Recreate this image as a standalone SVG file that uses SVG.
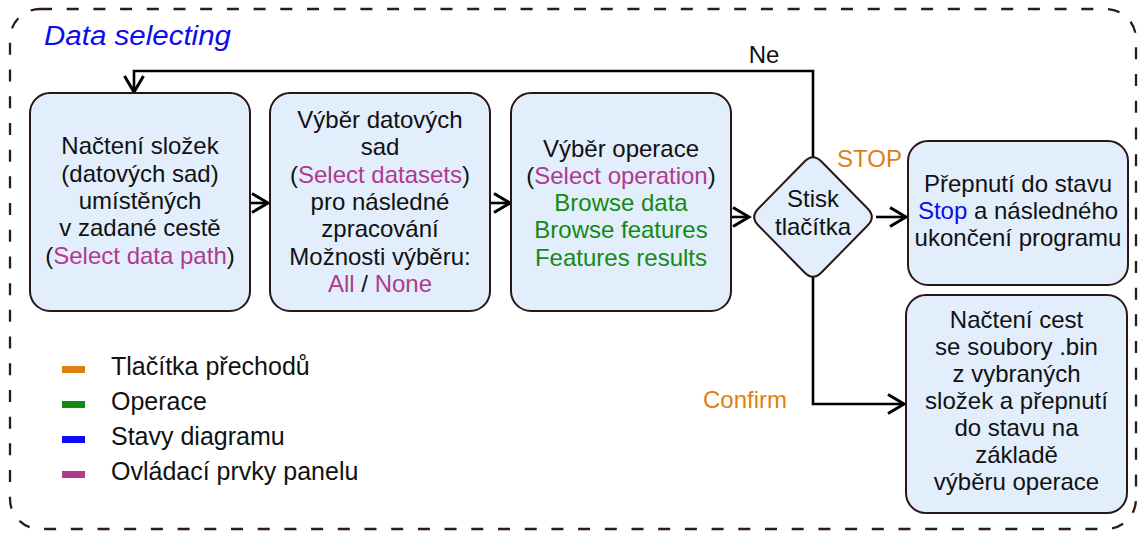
<svg xmlns="http://www.w3.org/2000/svg" width="1139" height="537" viewBox="0 0 1139 537">
  <style>
    text { font-family: "Liberation Sans", Arial, sans-serif; fill: #111; }
    .t { font-size: 24px; text-anchor: middle; }
    .lg { font-size: 25px; }
    .box { fill: #e2eefc; stroke: #2a1616; stroke-width: 2; }
    .conn { fill: none; stroke: #000; stroke-width: 2.6; }
    .p { fill: #b2398f; }
    .g { fill: #148a14; }
    .b { fill: #0c0cf0; }
    .o { fill: #e07f12; }
  </style>
  <defs>
    <marker id="arr" markerUnits="userSpaceOnUse" markerWidth="22" markerHeight="26" refX="18" refY="11" orient="auto" overflow="visible">
      <path d="M2,1.5 L18,11 L2,20.5" fill="none" stroke="#000" stroke-width="3"/>
    </marker>
  </defs>
  <rect width="1139" height="537" fill="#fff"/>

  <g id="frame">
    <rect x="10" y="9" width="1126" height="520" rx="30" ry="30" fill="none" stroke="#2e1a1a" stroke-width="2.3" stroke-dasharray="12 14.7"/>
    <text x="44" y="45" font-size="27" font-style="italic" fill="#0c0cf0" style="fill:#0c0cf0" textLength="187" lengthAdjust="spacingAndGlyphs">Data selecting</text>
  </g>

  <g id="connectors">
    <path class="conn" d="M813,160 V71 H134 V92" marker-end="url(#arr)"/>
    <path class="conn" d="M250,203 H268" marker-end="url(#arr)"/>
    <path class="conn" d="M490,203 H510" marker-end="url(#arr)"/>
    <path class="conn" d="M731,217 H749" marker-end="url(#arr)"/>
    <path class="conn" d="M876,217 H906" marker-end="url(#arr)"/>
    <path class="conn" d="M813,275 V404 H904" marker-end="url(#arr)"/>
    <text x="764" y="63" class="t">Ne</text>
    <text x="837" y="167" font-size="24" class="o">STOP</text>
    <text x="703" y="408" font-size="24" class="o">Confirm</text>
  </g>

  <g id="node-load">
    <rect class="box" x="30" y="93" width="220" height="218" rx="20"/>
    <text class="t" x="140" y="154">Načtení složek</text>
    <text class="t" x="140" y="181.5">(datových sad)</text>
    <text class="t" x="140" y="209">umístěných</text>
    <text class="t" x="140" y="236">v zadané cestě</text>
    <text class="t" x="140" y="263.5">(<tspan class="p">Select data path</tspan>)</text>
  </g>

  <g id="node-datasets">
    <rect class="box" x="270" y="93" width="220" height="218" rx="20"/>
    <text class="t" x="380" y="128">Výběr datových</text>
    <text class="t" x="380" y="155.3">sad</text>
    <text class="t" x="380" y="182.6">(<tspan class="p">Select datasets</tspan>)</text>
    <text class="t" x="380" y="210">pro následné</text>
    <text class="t" x="380" y="237.2">zpracování</text>
    <text class="t" x="380" y="264.5">Možnosti výběru:</text>
    <text class="t" x="380" y="291.8"><tspan class="p">All</tspan> / <tspan class="p">None</tspan></text>
  </g>

  <g id="node-operation">
    <rect class="box" x="511" y="93" width="220" height="218" rx="20"/>
    <text class="t" x="621" y="156.5">Výběr operace</text>
    <text class="t" x="621" y="183.8">(<tspan class="p">Select operation</tspan>)</text>
    <text class="t g" x="621" y="211">Browse data</text>
    <text class="t g" x="621" y="238.3">Browse features</text>
    <text class="t g" x="621" y="265.6">Features results</text>
  </g>

  <g id="node-decision">
    <path class="box" d="M821.4,161.5 L867.6,208.5 Q876,217 867.6,225.5 L821.4,272.5 Q813,281 804.6,272.5 L758.4,225.5 Q750,217 758.4,208.5 L804.6,161.5 Q813,153 821.4,161.5 Z"/>
    <text class="t" x="813" y="207">Stisk</text>
    <text class="t" x="813" y="235">tlačítka</text>
  </g>

  <g id="node-stop">
    <rect class="box" x="908" y="141" width="220" height="144" rx="20"/>
    <text class="t" x="1018" y="192">Přepnutí do stavu</text>
    <text class="t" x="1018" y="219"><tspan class="b">Stop</tspan> a následného</text>
    <text class="t" x="1018" y="246">ukončení programu</text>
  </g>

  <g id="node-confirm">
    <rect class="box" x="906" y="295" width="221" height="218" rx="20"/>
    <text class="t" x="1016.5" y="328">Načtení cest</text>
    <text class="t" x="1016.5" y="355">se soubory .bin</text>
    <text class="t" x="1016.5" y="382">z vybraných</text>
    <text class="t" x="1016.5" y="409">složek a přepnutí</text>
    <text class="t" x="1016.5" y="436">do stavu na</text>
    <text class="t" x="1016.5" y="463">základě</text>
    <text class="t" x="1016.5" y="490">výběru operace</text>
  </g>

  <g id="legend">
    <rect x="62" y="366" width="23" height="7" fill="#e07b0e"/>
    <rect x="62" y="401" width="23" height="7" fill="#148a14"/>
    <rect x="62" y="436" width="23" height="7" fill="#0c0cf0"/>
    <rect x="62" y="471" width="23" height="7" fill="#b2398f"/>
    <text class="lg" x="111" y="375">Tlačítka přechodů</text>
    <text class="lg" x="111" y="410">Operace</text>
    <text class="lg" x="111" y="445">Stavy diagramu</text>
    <text class="lg" x="111" y="480">Ovládací prvky panelu</text>
  </g>
</svg>
